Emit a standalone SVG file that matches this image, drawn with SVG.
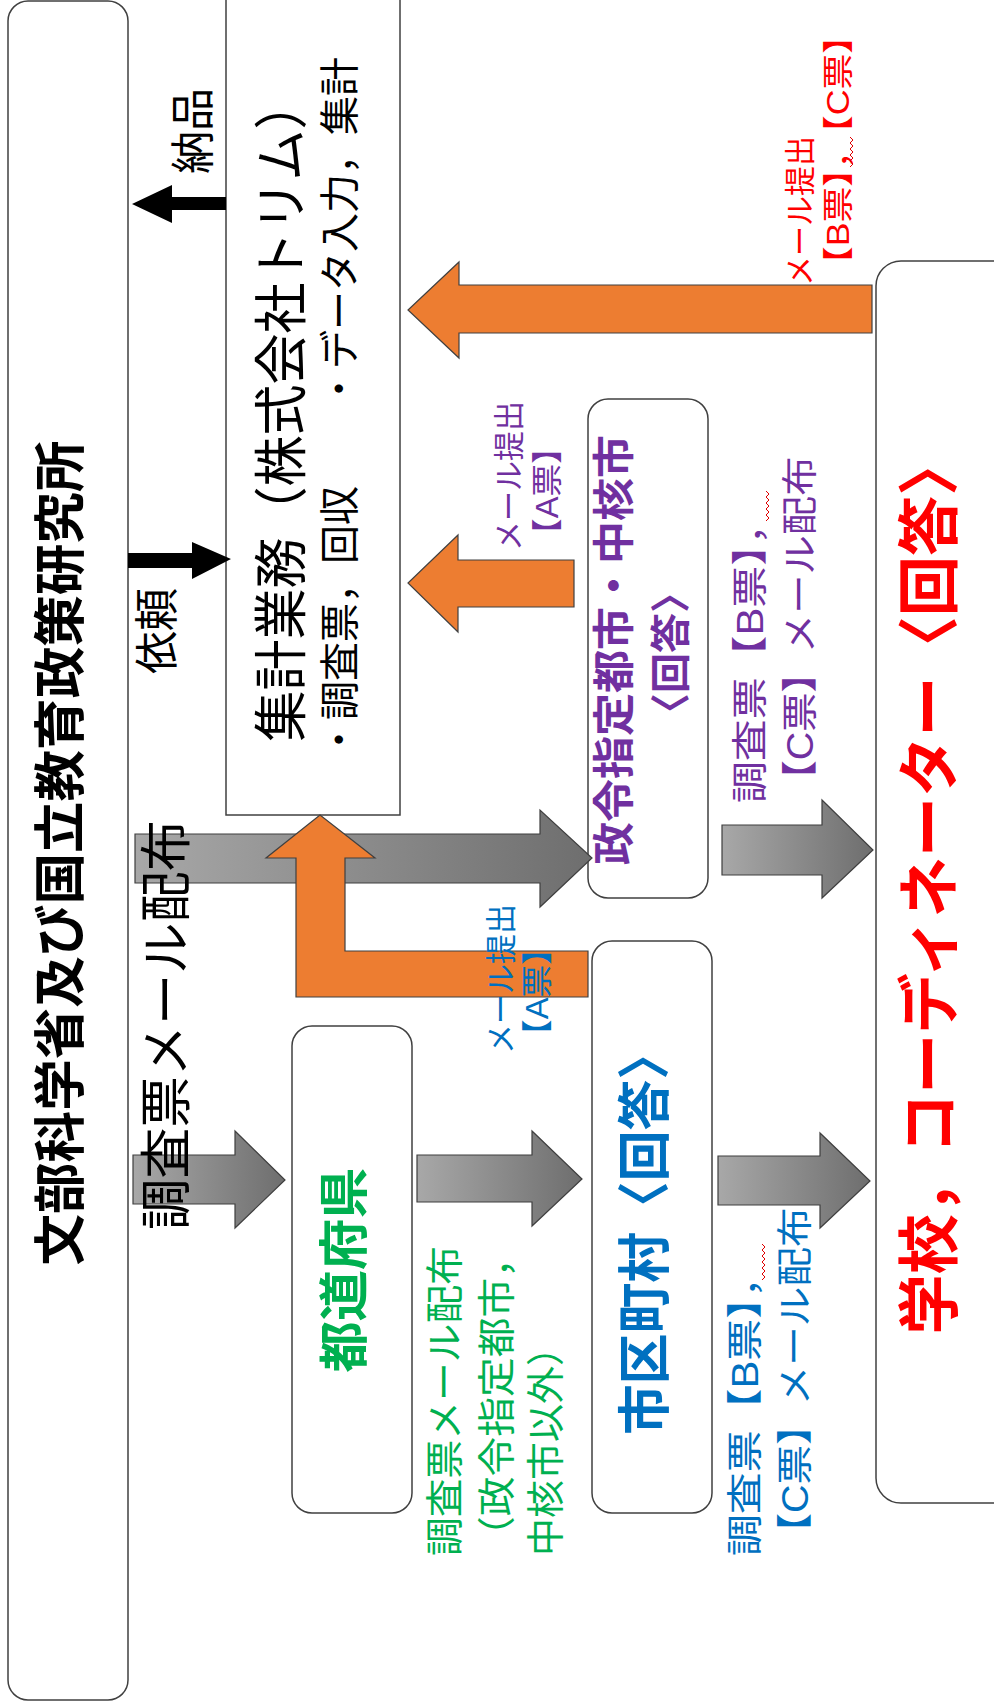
<svg xmlns="http://www.w3.org/2000/svg" width="994" height="1704" viewBox="0 0 994 1704">
<defs>
<linearGradient id="grey" x1="0" y1="0" x2="1" y2="0">
<stop offset="0" stop-color="#a8a8a8"/>
<stop offset="1" stop-color="#6e6e6e"/>
</linearGradient>
<style>
.box{fill:#fff;stroke:#404040;stroke-width:1.5}
.t{font-family:"Liberation Sans","Noto Sans CJK JP",sans-serif;text-anchor:middle;dominant-baseline:central}
.b{font-weight:bold}
.g{fill:url(#grey);stroke:#3f3f3f;stroke-width:1.2}
.o{fill:#ed7d31;stroke:#404040;stroke-width:1.2}
.k{fill:#000}
.sq{fill:none;stroke:#e00000;stroke-width:1}
.red{fill:#ff0000}
.pur{fill:#7030a0}
.blu{fill:#0070c0}
.grn{fill:#00b050}
.blk{fill:#000}
</style>
</defs>
<rect width="994" height="1704" fill="#fff"/>

<g id="mext">
<rect class="box" x="8" y="1" width="120" height="1699" rx="20"/>
<text class="t b blk" font-size="52" textLength="825" lengthAdjust="spacingAndGlyphs" transform="translate(61,853) rotate(-90)">文部科学省及び国立教育政策研究所</text>
</g>

<g id="trim">
<rect class="box" x="226" y="-3" width="174" height="818"/>
<text class="t blk" font-size="54" textLength="663" lengthAdjust="spacingAndGlyphs" transform="translate(282,410) rotate(-90)">集計業務（株式会社トリム）</text>
<text class="t blk" font-size="40" textLength="702" lengthAdjust="spacingAndGlyphs" transform="translate(340,408) rotate(-90)">・調査票，回収　　・データ入力，集計</text>
</g>

<g id="school">
<rect class="box" x="876" y="261" width="150" height="1242" rx="25"/>
<text class="t b red" font-size="62" textLength="899" lengthAdjust="spacingAndGlyphs" transform="translate(930,885) rotate(-90)">学校，コーディネーター〈回答〉</text>
</g>

<g id="seirei">
<rect class="box" x="588" y="399" width="120" height="499" rx="20"/>
<text class="t b pur" font-size="42" textLength="430" lengthAdjust="spacingAndGlyphs" transform="translate(614,650) rotate(-90)">政令指定都市・中核市</text>
<text class="t b pur" font-size="40" textLength="160" lengthAdjust="spacingAndGlyphs" transform="translate(671,653) rotate(-90)">〈回答〉</text>
</g>

<g id="shikuchoson">
<rect class="box" x="592" y="941" width="120" height="572" rx="20"/>
<text class="t b blu" font-size="53" textLength="406" lengthAdjust="spacingAndGlyphs" transform="translate(645,1232) rotate(-90)">市区町村〈回答〉</text>
</g>

<g id="todofuken">
<rect class="box" x="292" y="1026" width="120" height="487" rx="20"/>
<text class="t b grn" font-size="50" textLength="205" lengthAdjust="spacingAndGlyphs" transform="translate(345,1270) rotate(-90)">都道府県</text>
</g>

<g id="connectors">
<polygon class="g" points="135,834 540,834 540,810 592,858 540,907 540,883 135,883"/>
<polygon class="g" points="133,1155 235,1155 235,1131 285,1180 235,1228 235,1204 133,1204"/>
<polygon class="g" points="417,1155 532,1155 532,1131 582,1179 532,1226 532,1202 417,1202"/>
<polygon class="g" points="718,1156 820,1156 820,1133 870,1181 820,1228 820,1205 718,1205"/>
<polygon class="g" points="722,825 822,825 822,800 873,850 822,898 822,875 722,875"/>
<polygon class="o" points="872,285 459,285 459,262 408,310 459,358 459,333 872,333"/>
<polygon class="o" points="574,560 458,560 458,535 408,583 458,632 458,607 574,607"/>
<polygon class="o" points="588,951 345,951 345,858 375,858 320,815 266,858 296,858 296,997 588,997"/>
<polygon class="k" points="226,197 172,197 172,185 132,204 172,223 172,210 226,210"/>
<polygon class="k" points="128,553 192,553 192,542 231,559 192,579 192,568 128,568"/>
</g>

<g id="labels">
<text class="t blk" font-size="44" textLength="86" lengthAdjust="spacingAndGlyphs" transform="translate(193,131) rotate(-90)">納品</text>
<text class="t blk" font-size="44" textLength="86" lengthAdjust="spacingAndGlyphs" transform="translate(157,631) rotate(-90)">依頼</text>
<text class="t blk" font-size="52" textLength="410" lengthAdjust="spacingAndGlyphs" transform="translate(167,1025) rotate(-90)">調査票メール配布</text>
<text class="t red" font-size="31" textLength="150" lengthAdjust="spacingAndGlyphs" transform="translate(800,211) rotate(-90)">メール提出</text>
<text class="t red" font-size="31" textLength="264" lengthAdjust="spacingAndGlyphs" transform="translate(838,150) rotate(-90)">【B票】，【C票】</text>
<text class="t pur" font-size="31" textLength="150" lengthAdjust="spacingAndGlyphs" transform="translate(509,476) rotate(-90)">メール提出</text>
<text class="t pur" font-size="31" textLength="120" lengthAdjust="spacingAndGlyphs" transform="translate(547,491) rotate(-90)">【A票】</text>
<text class="t blu" font-size="31" textLength="150" lengthAdjust="spacingAndGlyphs" transform="translate(501,979) rotate(-90)">メール提出</text>
<text class="t blu" font-size="31" textLength="120" lengthAdjust="spacingAndGlyphs" transform="translate(537,992) rotate(-90)">【A票】</text>
<text class="t grn" font-size="38" textLength="310" lengthAdjust="spacingAndGlyphs" transform="translate(445,1401) rotate(-90)">調査票メール配布</text>
<text class="t grn" font-size="38" textLength="318" lengthAdjust="spacingAndGlyphs" transform="translate(497,1397) rotate(-90)">（政令指定都市，</text>
<text class="t grn" font-size="38" textLength="228" lengthAdjust="spacingAndGlyphs" transform="translate(546,1442) rotate(-90)">中核市以外）</text>
<text class="t pur" font-size="36" textLength="300" lengthAdjust="spacingAndGlyphs" transform="translate(750,653) rotate(-90)">調査票【B票】，</text>
<text class="t pur" font-size="36" textLength="343" lengthAdjust="spacingAndGlyphs" transform="translate(800,628) rotate(-90)">【C票】メール配布</text>
<text class="t blu" font-size="36" textLength="300" lengthAdjust="spacingAndGlyphs" transform="translate(745,1406) rotate(-90)">調査票【B票】，</text>
<text class="t blu" font-size="36" textLength="345" lengthAdjust="spacingAndGlyphs" transform="translate(795,1380) rotate(-90)">【C票】メール配布</text>
</g>

<g id="marks">
<polyline class="sq" points="850,137 853,140 850,143 853,146 850,149 853,152 850,155 853,158 850,161 853,164 850,167"/>
<polyline class="sq" points="766,491 769,494 766,497 769,500 766,503 769,506 766,509 769,512 766,515 769,518 766,521"/>
<polyline class="sq" points="762,1244 765,1247 762,1250 765,1253 762,1256 765,1259 762,1262 765,1265 762,1268 765,1271 762,1274 765,1277 762,1280"/>
</g>
</svg>
